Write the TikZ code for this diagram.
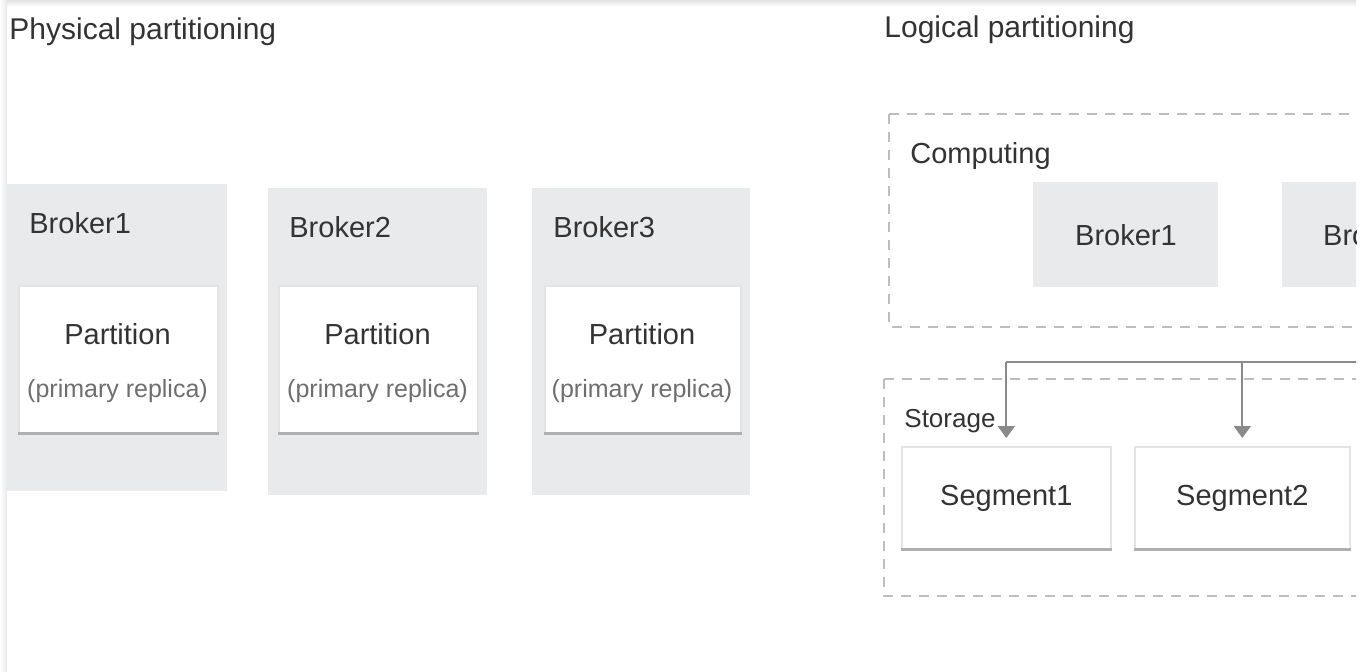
\documentclass[tikz,border=0pt]{standalone}
\usepackage{fontspec}
\setmainfont{Liberation Sans}
\usetikzlibrary{arrows.meta,positioning}
\definecolor{boxgray}{HTML}{E9EAEC}
\definecolor{txtgray}{HTML}{333333}
\definecolor{subgray}{HTML}{6E6E6E}
\definecolor{dashgray}{HTML}{BDBDBD}
\definecolor{linegray}{HTML}{8A8A8A}
\definecolor{edgegray}{HTML}{E4E4E4}
\definecolor{shadegray}{HTML}{B0B0B0}

\begin{document}
\begin{tikzpicture}[x=0.5pt, y=-0.5pt,
    brokerbg/.style={fill=boxgray, draw=none, inner sep=0, anchor=north west},
    whitebox/.style={fill=white, draw=edgegray, line width=0.8pt, inner sep=0, anchor=north west},
    titletext/.style={text=txtgray, font=\fontsize{15}{18}\selectfont, inner sep=0, anchor=base west},
    bigtext/.style={text=txtgray, font=\fontsize{14.5}{17}\selectfont, inner sep=0},
    subtext/.style={text=subgray, font=\fontsize{12.5}{15}\selectfont, inner sep=0},
    dashbox/.style={draw=dashgray, line width=0.9pt, dash pattern=on 5pt off 4pt},
    busline/.style={draw=linegray, line width=1pt},
    busarrow/.style={busline, -{Triangle[width=8.5pt,length=6pt]}, linegray}]
    \useasboundingbox (0,0) rectangle (1370,671);
    % frame edges of the screenshot
    \shade[top color=gray!22, bottom color=white] (0,0) rectangle (1356,7);
    \shade[left color=white, right color=gray!18] (0,0) rectangle (7,671);

    \begin{scope}
    \clip (7,7) rectangle (1356,671);

    % physical side
    \node[titletext] (phys) at (9,39) {Physical partitioning};

    \node[brokerbg, minimum width=110pt, minimum height=153.5pt] (pb1) at (7,184) {};
    \node[brokerbg, minimum width=109.5pt, minimum height=153.5pt] (pb2) at (268,188) {};
    \node[brokerbg, minimum width=109pt, minimum height=153.5pt] (pb3) at (532,188) {};
    \node[bigtext, anchor=base west] (pb1lab) at (29,233) {Broker1};
    \node[bigtext, anchor=base west] (pb2lab) at (289,237) {Broker2};
    \node[bigtext, anchor=base west] (pb3lab) at (553,237) {Broker3};

    \node[whitebox, minimum width=99.5pt, minimum height=73.5pt] (part1) at (18,285) {};
    \node[whitebox, minimum width=99.5pt, minimum height=73.5pt] (part2) at (278,285) {};
    \node[whitebox, minimum width=98pt, minimum height=73.5pt] (part3) at (544,285) {};
    \foreach \p/\cx in {part1/117.5, part2/377.5, part3/642} {
        \draw[shadegray, line width=1.2pt] (\p.south west) -- (\p.south east);
        \node[bigtext, anchor=base] (\p name) at (\cx,344) {Partition};
        \node[subtext, anchor=base] (\p role) at (\cx,397) {(primary replica)};
    }

    % logical side
    \node[titletext] (logi) at (884,37) {Logical partitioning};

    \draw[dashbox] (889,114) rectangle (1500,327);
    \node[bigtext, anchor=base west] (comp) at (910,163) {Computing};
    \node[brokerbg, minimum width=92.5pt, minimum height=52.5pt] (lb1) at (1033,182) {};
    \node[brokerbg, minimum width=92.5pt, minimum height=52.5pt] (lb2) at (1282,182) {};
    \node[bigtext, anchor=base] (lb1lab) at (1126,245) {Broker1};
    \node[bigtext, anchor=base] (lb2lab) at (1374,245) {Broker2};

    \draw[dashbox] (884,379) rectangle (1500,596);
    \node[text=txtgray, font=\fontsize{13}{15}\selectfont, inner sep=0, anchor=base west] (stor) at (904,427) {Storage};
    \node[whitebox, minimum width=104.5pt, minimum height=51pt] (seg1) at (901,446) {};
    \node[whitebox, minimum width=107.5pt, minimum height=51pt] (seg2) at (1134,446) {};
    \draw[shadegray, line width=1.2pt] (seg1.south west) -- (seg1.south east);
    \draw[shadegray, line width=1.2pt] (seg2.south west) -- (seg2.south east);
    \node[bigtext, anchor=base] (seg1lab) at (seg1.center |- 0,505) {Segment1};
    \node[bigtext, anchor=base] (seg2lab) at (seg2.center |- 0,505) {Segment2};

    % bus from the computing brokers down to the segments
    \coordinate (bus) at (1005,362);
    \draw[busline] (seg1.north |- bus) -- (1420,362);
    \draw[busarrow] (seg1.north |- bus) -- ([yshift=4pt]seg1.north);
    \draw[busarrow] (seg2.north |- bus) -- ([yshift=4pt]seg2.north);
    \end{scope}
\end{tikzpicture}
\end{document}
